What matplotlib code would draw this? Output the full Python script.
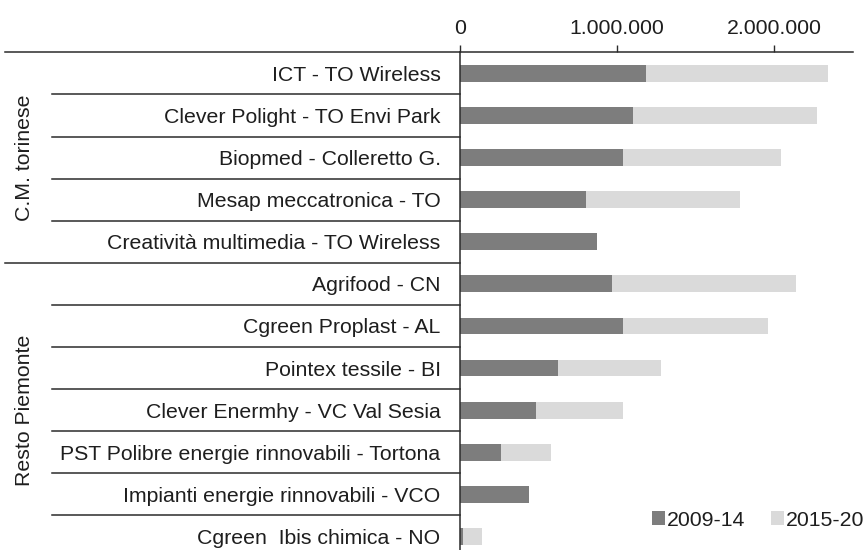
import matplotlib.pyplot as plt
import matplotlib.transforms as mtransforms
from matplotlib.ticker import FuncFormatter

plt.rcParams['font.family'] = ['Liberation Sans', 'DejaVu Sans']

# dati
categorie = ["ICT - TO Wireless", "Clever Polight - TO Envi Park", "Biopmed - Colleretto G.",
             "Mesap meccatronica - TO", "Creatività multimedia - TO Wireless",
             "Agrifood - CN", "Cgreen Proplast - AL", "Pointex tessile - BI",
             "Clever Enermhy - VC Val Sesia", "PST Polibre energie rinnovabili - Tortona",
             "Impianti energie rinnovabili - VCO", "Cgreen  Ibis chimica - NO"]
gruppi = ["C.M. torinese", "Resto Piemonte"]
n_gruppo = [5, 7]
v_0914 = [1185000, 1100000, 1040000, 800000, 870000, 966000, 1040000, 624000,
          484000, 263000, 440000, 17000]
v_1520 = [1155000, 1170000, 1000000, 980000, 0, 1174000, 920000, 652000,
          556000, 317000, 0, 125000]
serie = ["2009-14", "2015-20"]

scuro = '#7d7d7d'
chiaro = '#dadada'
linea = '#2b2b2b'
testo = '#1e1e1e'
fs = 15.3

W, H = 866, 550
fig = plt.figure(figsize=(W / 100, H / 100), dpi=100)
ax = fig.add_axes([460 / W, 1 - 557.5 / H, (853 - 460) / W, (557.5 - 52.3) / H])

y = list(range(len(categorie)))
ax.barh(y, v_0914, height=0.4, color=scuro, label=serie[0])
ax.barh(y, v_1520, left=v_0914, height=0.4, color=chiaro, label=serie[1])

ax.set_xlim(0, 2500000)
ax.set_ylim(len(categorie) - 0.5, -0.5)
ax.xaxis.tick_top()
ax.set_xticks([0, 1000000, 2000000])
ax.xaxis.set_major_formatter(FuncFormatter(lambda v, p: f"{int(v):,}".replace(',', '.')))
ax.tick_params(axis='x', direction='out', length=5, width=1, color=linea,
               labelsize=fs, labelcolor=testo, pad=5.5)
ax.set_yticks(y)
ax.set_yticklabels(categorie)
ax.tick_params(axis='y', length=0, labelsize=fs, labelcolor=testo, pad=14)

for s in ['right', 'bottom']:
    ax.spines[s].set_visible(False)
for s in ['top', 'left']:
    ax.spines[s].set_color(linea)
    ax.spines[s].set_linewidth(1.1)

# linee di separazione nella zona delle etichette
tr = mtransforms.blended_transform_factory(fig.transFigure, ax.transData)
x_asse = 460 / W
ax.plot([5 / W, x_asse], [-0.5, -0.5], transform=tr, color=linea, lw=1.1, clip_on=False)
inizio = 0
for g, n in zip(gruppi, n_gruppo):
    for k in range(inizio, inizio + n - 1):
        ax.plot([52 / W, x_asse], [k + 0.5, k + 0.5], transform=tr, color=linea,
                lw=1.1, clip_on=False)
    fine = inizio + n - 1
    ax.plot([5 / W, x_asse], [fine + 0.5, fine + 0.5], transform=tr, color=linea,
            lw=1.1, clip_on=False)
    ax.text(25 / W, (inizio + fine) / 2, g, transform=tr, rotation=90, ha='center',
            va='center', fontsize=fs, color=testo)
    inizio += n

leg = fig.legend(loc='center right', bbox_to_anchor=(864 / W, 1 - 520 / H), ncol=2,
                 frameon=False, fontsize=fs, handlelength=0.6, handleheight=0.6,
                 handletextpad=0.1, columnspacing=1.2, borderpad=0, borderaxespad=0)
for t in leg.get_texts():
    t.set_color(testo)

fig.savefig('out.png', dpi=100)
